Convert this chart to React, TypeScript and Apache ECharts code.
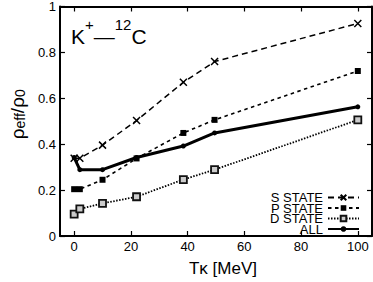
import React, { useEffect, useRef } from "react";
import * as echarts from "echarts";

const xS = [0, 2, 10, 22, 38.5, 49.5, 100];
const sState = [0.339, 0.339, 0.396, 0.503, 0.67, 0.76, 0.926];
const pState = [0.204, 0.204, 0.245, 0.338, 0.449, 0.506, 0.719];
const dState = [0.095, 0.118, 0.142, 0.171, 0.246, 0.289, 0.506];
const allState = [0.342, 0.289, 0.289, 0.342, 0.392, 0.449, 0.563];
const seriesNames = ["S STATE", "P STATE", "D STATE", "ALL"];
const xTicks = [0, 20, 40, 60, 80, 100];
const yTicks = [0, 0.2, 0.4, 0.6, 0.8, 1];

const FONT = "Liberation Sans, Arial, Helvetica, sans-serif";

function pairs(ys: number[]) {
  return xS.map((x, i) => [x, ys[i]]);
}

export default function App() {
  const ref = useRef<HTMLDivElement>(null);
  useEffect(() => {
    if (!ref.current) return;
    const chart = echarts.init(ref.current, undefined, { renderer: "svg" });
    const axisCommon = {
      axisLine: { show: true, onZero: false, lineStyle: { color: "#000", width: 2 } },
      axisTick: { show: true, inside: true, length: 5, lineStyle: { color: "#000", width: 1.2 } },
      splitLine: { show: false },
    };
    const crossPath = "path://M0,0L10,10M0,10L10,0";
    chart.setOption({
      animation: false,
      grid: { left: 49, right: 1, top: 6, bottom: 42, containLabel: false },
      xAxis: [
        {
          type: "value",
          min: -5,
          max: 105,
          interval: 20,
          ...axisCommon,
          axisLabel: {
            margin: 4,
            fontSize: 13,
            color: "#000",
            fontFamily: FONT,
            customValues: xTicks,
          },
          axisTick: { ...axisCommon.axisTick, customValues: xTicks },
          name: "Tκ [MeV]",
          nameLocation: "middle",
          nameGap: 24,
          nameTextStyle: { fontSize: 17, color: "#000", fontFamily: FONT, padding: [0, 0, 0, 14] },
        },
        {
          type: "value",
          position: "top",
          min: -5,
          max: 105,
          interval: 20,
          ...axisCommon,
          axisTick: { ...axisCommon.axisTick, customValues: xTicks },
          axisLabel: { show: false },
        },
      ],
      yAxis: [
        {
          type: "value",
          min: 0,
          max: 1,
          interval: 0.2,
          ...axisCommon,
          axisLabel: {
            margin: 4,
            fontSize: 13,
            color: "#000",
            fontFamily: FONT,
            customValues: yTicks,
            formatter: (v: number) => (v === 0 || v === 1 ? String(v) : v.toFixed(1)),
          },
          name: "{a|ρ}{s|eff}{a|/ρ}{s|0}",
          nameLocation: "middle",
          nameRotate: 90,
          nameGap: 31,
          nameTextStyle: {
            color: "#000",
            fontFamily: FONT,
            padding: [0, 0, 0, 14],
            rich: {
              a: { fontSize: 19, color: "#000", fontFamily: FONT, verticalAlign: "bottom", lineHeight: 22 },
              s: { fontSize: 14, color: "#000", fontFamily: FONT, verticalAlign: "bottom", lineHeight: 16 },
            },
          },
        },
        {
          type: "value",
          position: "right",
          min: 0,
          max: 1,
          interval: 0.2,
          ...axisCommon,
          axisLabel: { show: false },
        },
      ],
      legend: {
        orient: "vertical",
        right: 13,
        top: 191,
        align: "right",
        itemWidth: 31,
        itemHeight: 7,
        itemGap: -2.5,
        padding: 0,
        textStyle: { fontSize: 13, color: "#000", fontFamily: FONT, lineHeight: 10.5, padding: [0, 0, 0, 0] },
        data: seriesNames,
      },
      graphic: [
        {
          type: "text",
          left: 71,
          top: 17,
          style: {
            text: "{b|K}{u|+}{b|—}{u|12}{b|C}",
            fill: "#000",
            rich: {
              b: { fontSize: 21, fontFamily: FONT, fill: "#000", verticalAlign: "bottom", lineHeight: 30 },
              u: { fontSize: 15, fontFamily: FONT, fill: "#000", verticalAlign: "top", lineHeight: 30 },
            },
          },
        },
      ],
      series: [
        {
          name: seriesNames[0],
          type: "line",
          data: pairs(sState),
          symbol: crossPath,
          symbolSize: 7,
          itemStyle: { color: "#000", borderColor: "#000", borderWidth: 1.5 },
          lineStyle: { color: "#000", width: 1.5, type: [6, 4] },
          emphasis: { disabled: true },
          z: 2,
        },
        {
          name: seriesNames[1],
          type: "line",
          data: pairs(pState),
          symbol: "rect",
          symbolSize: 6,
          itemStyle: { color: "#000" },
          lineStyle: { color: "#000", width: 1.6, type: [3.5, 3.5] },
          emphasis: { disabled: true },
          z: 2,
        },
        {
          name: seriesNames[2],
          type: "line",
          data: pairs(dState),
          symbol: "rect",
          symbolSize: 7,
          itemStyle: { color: "#ccc", borderColor: "#111", borderWidth: 1.8 },
          lineStyle: { color: "#000", width: 1.8, type: [1.5, 1.5] },
          emphasis: { disabled: true },
          z: 2,
        },
        {
          name: seriesNames[3],
          type: "line",
          data: pairs(allState),
          symbol: "circle",
          symbolSize: 5,
          itemStyle: { color: "#000" },
          lineStyle: { color: "#000", width: 3 },
          emphasis: { disabled: true },
          z: 3,
        },
      ],
    });
    return () => chart.dispose();
  }, []);
  return <div ref={ref} style={{ width: 373, height: 282, position: "absolute", left: 0, top: 0 }} />;
}
